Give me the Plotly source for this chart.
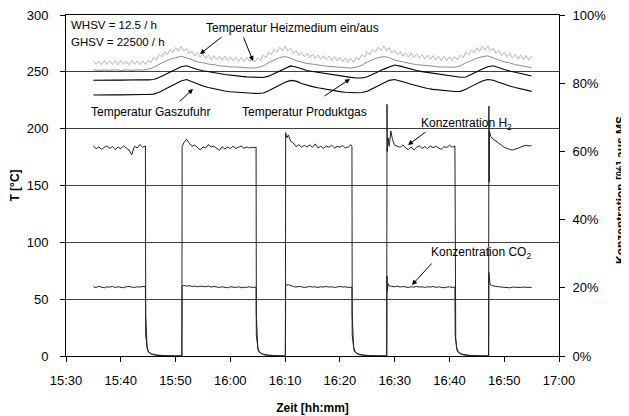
import numpy as np
import pandas as pd
import plotly.graph_objects as go

# ---------------- data (minutes after 15:30) ----------------
# Temperatur Heizmedium ein (noisy upper grey line), sampled every 0.5 min from 5 to 85
heiz_ein_minutes = np.arange(5, 85.01, 0.5)
heiz_ein = [
    259.8, 256.4, 259.6, 256.2, 259.9, 256.5, 259.5, 256.3, 259.7, 256.1,
    259.8, 256.4, 259.3, 256.2, 259.9, 256.5, 259.6, 256.3, 259.8, 256.4,
    260.3, 257.9, 262.8, 260.4, 265.3, 263.0, 267.8, 265.2, 269.8, 267.0, 271.3, 268.2, 272.3, 268.5,
    270.3, 265.7, 268.3, 263.9, 266.8, 262.7, 265.8, 261.7, 264.8, 261.0, 264.3, 260.5, 263.8, 260.1,
    263.6, 259.8, 263.3, 259.6, 263.1, 259.3, 262.8, 259.1, 262.6, 258.8, 262.3, 258.7, 262.3,
    259.7, 264.8, 262.5, 267.3, 265.0, 269.8, 267.2, 271.8, 268.6, 272.5, 268.2,
    270.8, 266.2, 268.8, 264.4, 267.3, 263.2, 266.3, 262.3, 265.6, 261.6, 264.8, 261.0, 264.3, 260.5,
    263.8, 259.9, 263.3, 259.5, 262.8, 258.9, 262.3, 258.4, 261.8, 258.2,
    262.8, 260.4, 265.3, 263.0, 267.8, 265.2, 269.8, 267.2, 271.8, 268.8, 272.8, 268.7,
    271.3, 266.7, 269.3, 264.9, 267.8, 263.7, 266.8, 262.9, 266.3, 262.4, 265.8, 261.9, 265.3, 261.4,
    264.8, 260.9, 264.3, 260.5, 263.8, 260.1, 263.6, 259.8, 263.3, 259.7, 263.3,
    260.4, 264.8, 262.5, 267.3, 264.7, 269.3, 266.7, 271.3, 268.2, 272.3, 269.0, 272.8, 268.2,
    270.8, 266.2, 268.8, 264.4, 267.3, 263.2, 266.3, 262.2, 265.3, 261.4, 264.8, 260.9, 264.3, 260.4, 263.8,
]

# one-minute samples from 5 to 85
temp_minutes = np.arange(5, 86, 1)
heiz_aus = [
    251.8, 251.2, 251.7, 251.3, 251.8, 251.2, 251.7, 251.3, 251.8, 251.4,
    252.2, 253.8, 256.6, 258.8, 261.2, 262.4, 263.6, 262.4, 260.6, 258.8, 258.1,
    256.8, 256.3, 255.3, 255.0, 254.3, 254.3, 253.8, 253.8, 253.3, 253.6,
    255.3, 258.1, 260.3, 262.6, 263.4, 262.1, 259.9, 258.6, 257.3, 256.8,
    255.8, 255.4, 254.8, 254.5, 253.8, 253.7, 253.3, 254.1,
    255.8, 258.6, 260.3, 262.6, 263.4, 262.6, 260.3, 259.1, 257.8, 257.2,
    256.3, 256.0, 255.3, 255.0, 254.3, 254.2, 253.8, 254.1,
    255.3, 258.1, 259.8, 262.1, 263.3, 264.1, 262.3, 260.6, 258.8, 257.9,
    256.3, 255.6, 254.3, 253.6,
]
produktgas = [
    242.6, 242.8, 242.7, 242.9, 242.8, 242.7, 242.9, 242.8, 242.8, 243.0, 242.9,
    243.3, 245.0, 247.5, 250.0, 252.5, 254.5, 255.4, 253.6, 252.1, 251.0,
    250.0, 249.2, 248.5, 247.7, 247.0, 246.5, 246.0, 245.6, 245.2, 244.9, 245.0,
    246.2, 248.5, 251.3, 253.6, 255.2, 254.3, 252.6, 251.2, 250.3, 249.5,
    248.7, 248.0, 247.2, 246.5, 245.7, 245.1, 244.6, 244.6,
    245.6, 247.5, 250.0, 252.4, 254.5, 256.0, 255.0, 253.5, 252.2, 251.1,
    250.2, 249.5, 248.7, 248.0, 247.2, 246.5, 245.8, 245.3,
    245.5, 247.5, 250.0, 252.5, 254.5, 255.3, 254.0, 252.1, 250.7, 249.5,
    248.4, 247.3, 246.3,
]
gaszufuhr = [
    229.6, 229.8, 229.7, 229.9, 229.8, 229.7, 229.9, 229.8, 229.9, 230.0, 230.0,
    230.4, 232.0, 234.5, 237.0, 239.5, 242.0, 243.2, 241.2, 239.2, 237.6,
    236.2, 235.0, 234.0, 233.2, 232.5, 232.0, 231.6, 231.3, 231.1, 231.0, 231.4,
    233.3, 235.8, 238.4, 240.8, 242.5, 241.8, 239.8, 238.2, 237.0, 236.0,
    235.0, 234.1, 233.3, 232.6, 232.1, 231.7, 231.6, 231.8,
    233.0, 235.4, 238.0, 240.5, 242.5, 243.3, 242.2, 240.6, 239.0, 237.6,
    236.4, 235.4, 234.6, 234.0, 233.4, 233.0, 232.7, 232.8,
    234.6, 237.2, 239.8, 242.0, 243.3, 242.6, 240.8, 239.0, 237.5, 236.2,
    235.0, 233.8, 232.8,
]

# Konzentration H2 [%]
h2_minutes = [
    5, 5.5, 6, 6.5, 7, 7.5, 8, 8.5, 9, 9.5, 10, 10.5, 11, 11.5, 12, 12.5, 13, 13.5, 14, 14.5,
    14.55, 14.65, 14.8, 15.1, 15.6, 16.5, 17.5, 18.5, 21.15,
    21.2, 21.5, 22, 22.5, 23, 23.5, 24, 24.5, 25, 25.5, 26, 26.5, 27, 27.5, 28, 28.5, 29, 29.5,
    30, 30.5, 31, 31.5, 32, 32.5, 33, 33.5, 34, 34.5, 34.7,
    34.75, 34.85, 35.0, 35.3, 35.8, 36.7, 37.7, 38.7, 40.05,
    40.1, 40.3, 40.6, 41, 41.5, 42, 42.5, 43, 43.5, 44, 44.5, 45, 45.5, 46, 46.5, 47, 47.5, 48,
    48.5, 49, 49.5, 50, 50.5, 51, 51.5, 52, 52.2,
    52.25, 52.35, 52.5, 52.8, 53.3, 54.2, 55.2, 56.2, 58.55,
    58.6, 58.65, 58.8, 59.0, 59.3, 59.6, 60, 60.5, 61, 61.5, 62, 62.5, 63, 63.5, 64, 64.5, 65,
    65.5, 66, 66.5, 67, 67.5, 68, 68.5, 69, 69.5, 70, 70.5, 71.0,
    71.05, 71.15, 71.3, 71.6, 72.1, 73, 74, 75, 77.15,
    77.2, 77.25, 77.3, 77.5, 78, 78.5, 79, 79.5, 80, 80.5, 81, 81.5, 82, 82.5, 83, 83.5, 84, 84.5, 85,
]
h2_values = [
    61.5, 60.8, 61.3, 60.6, 61.2, 61.6, 60.9, 61.4, 60.5, 61.3, 60.8, 61.6, 61.0, 60.4, 59.0, 61.5, 61.0, 62.0, 61.2, 61.6,
    12, 5, 2.5, 1.2, 0.6, 0.3, 0.1, 0, 0,
    61.4, 62.5, 63.6, 62.4, 61.5, 61.9, 61.0, 60.4, 61.3, 61.0, 62.0, 61.3, 61.5, 60.8, 60.3, 61.4, 60.7, 61.3,
    60.8, 61.5, 60.9, 61.2, 61.6, 60.9, 61.3, 61.0, 61.2, 61.1, 61.3,
    12, 5, 2.5, 1.2, 0.6, 0.3, 0.1, 0, 0,
    65.5, 64.0, 64.8, 63.0, 62.5, 61.4, 62.0, 61.2, 61.8, 61.3, 61.9, 61.2, 62.2, 61.0, 61.5, 60.9, 61.6, 61.2,
    61.8, 61.0, 61.5, 61.2, 61.7, 61.0, 61.3, 62.0, 61.4,
    12, 5, 2.5, 1.2, 0.6, 0.3, 0.1, 0, 0,
    73.8, 60.0, 64.0, 61.5, 66.0, 63.5, 61.8, 61.5, 61.2, 61.9, 61.0, 60.5, 61.3, 60.4, 61.2, 61.6, 60.9,
    61.4, 60.8, 61.6, 61.1, 61.5, 61.0, 60.6, 61.4, 61.1, 61.8, 61.2, 61.6,
    12, 5, 2.5, 1.2, 0.6, 0.3, 0.1, 0, 0,
    73.3, 51.0, 66.0, 64.5, 63.5, 63.0, 62.5, 61.8, 61.2, 60.8, 60.6, 60.4, 60.6, 60.9, 61.3, 61.5, 61.8, 61.6, 61.7,
]

# Konzentration CO2 [%]
co2_minutes = [
    5, 5.5, 6, 6.5, 7, 7.5, 8, 8.5, 9, 9.5, 10, 10.5, 11, 11.5, 12, 12.5, 13, 13.5, 14, 14.5,
    14.55, 14.7, 14.9, 15.3, 15.9, 16.8, 18.0, 21.15,
    21.2, 21.5, 22, 22.5, 23, 23.5, 24, 24.5, 25, 25.5, 26, 26.5, 27, 27.5, 28, 28.5, 29, 29.5,
    30, 30.5, 31, 31.5, 32, 32.5, 33, 33.5, 34, 34.5, 34.7,
    34.75, 34.9, 35.1, 35.5, 36.1, 37.0, 38.2, 40.05,
    40.1, 40.3, 40.6, 41, 41.5, 42, 42.5, 43, 43.5, 44, 44.5, 45, 45.5, 46, 46.5, 47, 47.5, 48,
    48.5, 49, 49.5, 50, 50.5, 51, 51.5, 52, 52.2,
    52.25, 52.4, 52.6, 53.0, 53.6, 54.5, 55.7, 58.55,
    58.6, 58.65, 58.8, 59.0, 59.5, 60, 60.5, 61, 61.5, 62, 62.5, 63, 63.5, 64, 64.5, 65,
    65.5, 66, 66.5, 67, 67.5, 68, 68.5, 69, 69.5, 70, 70.5, 71.0,
    71.05, 71.2, 71.4, 71.8, 72.4, 73.3, 74.5, 77.15,
    77.2, 77.25, 77.4, 77.7, 78, 78.5, 79, 79.5, 80, 80.5, 81, 81.5, 82, 82.5, 83, 83.5, 84, 84.5, 85,
]
co2_values = [
    20.3, 20.1, 20.4, 20.2, 20.0, 20.3, 20.2, 20.4, 20.1, 20.3, 20.2, 20.0, 20.3, 20.4, 20.2, 20.1, 20.3, 20.2, 20.4, 20.3,
    6, 3, 1.5, 0.8, 0.4, 0.15, 0.05, 0,
    20.6, 20.7, 20.5, 20.6, 20.4, 20.5, 20.3, 20.5, 20.4, 20.3, 20.5, 20.2, 20.4, 20.3, 20.1, 20.3, 20.2, 20.0,
    20.3, 20.2, 20.1, 20.3, 20.0, 20.2, 20.1, 20.3, 20.1, 20.2, 20.1,
    6, 3, 1.5, 0.8, 0.4, 0.15, 0.05, 0,
    21.0, 20.8, 20.9, 20.6, 20.4, 20.2, 20.4, 20.3, 20.1, 20.2, 20.4, 20.2, 20.3, 20.1, 20.3, 20.2, 20.4, 20.2,
    20.3, 20.1, 20.2, 20.4, 20.2, 20.3, 20.1, 20.3, 20.2,
    6, 3, 1.5, 0.8, 0.4, 0.15, 0.05, 0,
    23.5, 19.0, 21.2, 20.6, 20.4, 20.3, 20.5, 20.2, 20.4, 20.3, 20.1, 20.3, 20.2, 20.4, 20.2, 20.3,
    20.1, 20.3, 20.2, 20.4, 20.1, 20.3, 20.2, 20.0, 20.2, 20.3, 20.1, 20.2,
    6, 3, 1.5, 0.8, 0.4, 0.15, 0.05, 0,
    24.5, 21.8, 21.0, 20.7, 20.5, 20.4, 20.3, 20.2, 20.3, 20.1, 20.0, 20.2, 20.1, 20.0, 20.1, 20.2, 20.1, 20.2, 20.1,
]

x_range_minutes = [0, 90]
y_left_ticks = [0, 50, 100, 150, 200, 250, 300]
y_right_ticks = [0, 20, 40, 60, 80, 100]
y_right_labels = ["0%", "20%", "40%", "60%", "80%", "100%"]

# ---------------- helpers ----------------
BASE = pd.Timestamp("2000-01-01 15:30:00")


def tm(minutes):
    return BASE + pd.to_timedelta(np.asarray(minutes, dtype=float), unit="min")


FONT = "Arial, 'Liberation Sans', sans-serif"
# page body adds an 8 px offset; figure is sized to fit the window after it
OFF = 8
FIG_W, FIG_H = 629 - OFF, 416 - OFF
L, R, T, B = 66, 559, 15, 356   # plot area in screen pixels


def px(x):
    return (x - L) / (R - L)


def py(y):
    return (B - y) / (B - T)


fig = go.Figure()
fig.add_trace(go.Scatter(x=tm(heiz_ein_minutes), y=heiz_ein, mode="lines",
                         line=dict(color="#b4b4b4", width=1), name="Heizmedium ein"))
fig.add_trace(go.Scatter(x=tm(temp_minutes), y=heiz_aus, mode="lines",
                         line=dict(color="#8c8c8c", width=1), name="Heizmedium aus"))
fig.add_trace(go.Scatter(x=tm(temp_minutes), y=produktgas, mode="lines",
                         line=dict(color="#000000", width=1.1), name="Produktgas"))
fig.add_trace(go.Scatter(x=tm(temp_minutes), y=gaszufuhr, mode="lines",
                         line=dict(color="#000000", width=1.1), name="Gaszufuhr"))
fig.add_trace(go.Scatter(x=tm(h2_minutes), y=h2_values, mode="lines", yaxis="y2",
                         line=dict(color="#222222", width=1), name="H2"))
fig.add_trace(go.Scatter(x=tm(co2_minutes), y=co2_values, mode="lines", yaxis="y2",
                         line=dict(color="#222222", width=1), name="CO2"))

texts = [
    ("WHSV = 12.5 / h", 69, 25, "left", 11.5),
    ("GHSV = 22500 / h", 69, 42, "left", 11.5),
    ("Temperatur Heizmedium ein/aus", 292, 28, "center", 12),
    ("Temperatur Gaszufuhr", 150, 112, "center", 12),
    ("Temperatur Produktgas", 304, 112, "center", 12),
    ("Konzentration H<sub>2</sub>", 466, 124, "center", 12),
    ("Konzentration CO<sub>2</sub>", 481, 253, "center", 12),
]
annotations = []
for txt, x, y, anchor, size in texts:
    annotations.append(dict(text=txt, x=px(x), y=py(y), xref="paper", yref="paper",
                            xanchor=anchor, yanchor="middle", showarrow=False,
                            font=dict(family=FONT, size=size, color="#000")))
# right axis title, placed explicitly
annotations.append(dict(text="<b>Konzentration [%] aus MS</b>", x=px(621), y=py(190),
                        xref="paper", yref="paper", xanchor="center", yanchor="middle",
                        textangle=-90, showarrow=False,
                        font=dict(family=FONT, size=12, color="#000")))
arrows = [
    ((223, 36), (200, 54)),
    ((243, 36), (253, 61)),
    ((178, 103), (193, 89)),
    ((323, 97), (350, 79)),
    ((427, 131), (408, 145)),
    ((433, 262), (412, 285)),
]
for (tx, ty), (hx, hy) in arrows:
    annotations.append(dict(text="", x=px(hx), y=py(hy), xref="paper", yref="paper",
                            ax=tx - hx, ay=ty - hy, showarrow=True, arrowhead=2,
                            arrowsize=1, arrowwidth=1, arrowcolor="#000"))

fig.update_layout(
    width=FIG_W, height=FIG_H,
    margin=dict(l=L - OFF, r=FIG_W - (R - OFF), t=T - OFF, b=FIG_H - (B - OFF),
                autoexpand=False),
    paper_bgcolor="white", plot_bgcolor="white",
    showlegend=False,
    font=dict(family=FONT, size=13, color="#000"),
    xaxis=dict(
        range=list(tm(x_range_minutes)), type="date", tickformat="%H:%M",
        dtick=10 * 60 * 1000, tick0=tm([0])[0], automargin=False,
        showgrid=False, zeroline=False, showline=True, linecolor="#000", linewidth=1,
        mirror=True, ticks="outside", ticklen=5, tickcolor="#000",
        tickfont=dict(size=13), ticklabelstandoff=7, ticklabeloverflow="allow",
        title=dict(text="<b>Zeit [hh:mm]</b>", font=dict(size=12), standoff=17),
    ),
    yaxis=dict(
        range=[0, 300], tickvals=y_left_ticks, automargin=False,
        showgrid=True, gridcolor="#404040", gridwidth=1, zeroline=False,
        showline=True, linecolor="#000", linewidth=1,
        ticks="outside", ticklen=5, tickcolor="#000", tickfont=dict(size=13),
        ticklabelstandoff=9, ticklabeloverflow="allow",
        title=dict(text="<b>T [°C]</b>", font=dict(size=12), standoff=6),
    ),
    yaxis2=dict(
        range=[0, 100], tickvals=y_right_ticks, ticktext=y_right_labels,
        overlaying="y", side="right", showgrid=False, zeroline=False, automargin=False,
        showline=True, linecolor="#000", linewidth=1,
        ticks="outside", ticklen=5, tickcolor="#000", tickfont=dict(size=13),
        ticklabelstandoff=5, ticklabeloverflow="allow",
    ),
    annotations=annotations,
)

fig.write_html("out.html")
